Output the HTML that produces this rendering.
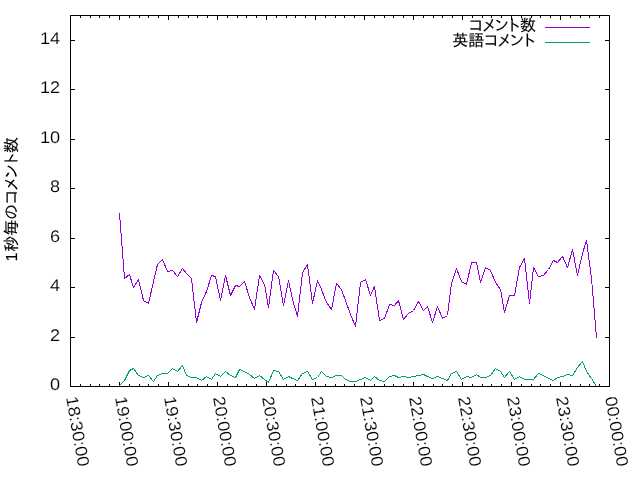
<!DOCTYPE html>
<html lang="ja">
<head>
<meta charset="utf-8">
<title>1秒毎のコメント数</title>
<style>
html,body{margin:0;padding:0;background:#fff;}
body{width:640px;height:480px;overflow:hidden;}
svg{display:block;}
text{font-family:"Liberation Sans", "IPAGothic", sans-serif;font-size:16px;fill:#000;text-rendering:geometricPrecision;stroke:#000;stroke-width:0.15px;}
.d{font-size:16.8px;stroke:#fff;stroke-width:0.12px;}
.ax{stroke:#000;stroke-width:1;fill:none;shape-rendering:crispEdges;}
</style>
</head>
<body>
<svg width="640" height="480" viewBox="0 0 640 480">
<rect x="0" y="0" width="640" height="480" fill="#fff"/>
<path class="ax" d="M70.5,386.50h4.5 M609.5,386.50h-4.5 M70.5,337.50h4.5 M609.5,337.50h-4.5 M70.5,287.50h4.5 M609.5,287.50h-4.5 M70.5,238.50h4.5 M609.5,238.50h-4.5 M70.5,188.50h4.5 M609.5,188.50h-4.5 M70.5,139.50h4.5 M609.5,139.50h-4.5 M70.5,89.50h4.5 M609.5,89.50h-4.5 M70.5,40.50h4.5 M609.5,40.50h-4.5 M70.50,386.5v-4.5 M70.50,15.5v4.5 M80.50,386.5v-2.5 M80.50,15.5v2.5 M90.50,386.5v-2.5 M90.50,15.5v2.5 M99.50,386.5v-2.5 M99.50,15.5v2.5 M109.50,386.5v-2.5 M109.50,15.5v2.5 M119.50,386.5v-4.5 M119.50,15.5v4.5 M129.50,386.5v-2.5 M129.50,15.5v2.5 M139.50,386.5v-2.5 M139.50,15.5v2.5 M148.50,386.5v-2.5 M148.50,15.5v2.5 M158.50,386.5v-2.5 M158.50,15.5v2.5 M168.50,386.5v-4.5 M168.50,15.5v4.5 M178.50,386.5v-2.5 M178.50,15.5v2.5 M188.50,386.5v-2.5 M188.50,15.5v2.5 M197.50,386.5v-2.5 M197.50,15.5v2.5 M207.50,386.5v-2.5 M207.50,15.5v2.5 M217.50,386.5v-4.5 M217.50,15.5v4.5 M227.50,386.5v-2.5 M227.50,15.5v2.5 M237.50,386.5v-2.5 M237.50,15.5v2.5 M246.50,386.5v-2.5 M246.50,15.5v2.5 M256.50,386.5v-2.5 M256.50,15.5v2.5 M266.50,386.5v-4.5 M266.50,15.5v4.5 M276.50,386.5v-2.5 M276.50,15.5v2.5 M286.50,386.5v-2.5 M286.50,15.5v2.5 M295.50,386.5v-2.5 M295.50,15.5v2.5 M305.50,386.5v-2.5 M305.50,15.5v2.5 M315.50,386.5v-4.5 M315.50,15.5v4.5 M325.50,386.5v-2.5 M325.50,15.5v2.5 M335.50,386.5v-2.5 M335.50,15.5v2.5 M344.50,386.5v-2.5 M344.50,15.5v2.5 M354.50,386.5v-2.5 M354.50,15.5v2.5 M364.50,386.5v-4.5 M364.50,15.5v4.5 M374.50,386.5v-2.5 M374.50,15.5v2.5 M384.50,386.5v-2.5 M384.50,15.5v2.5 M393.50,386.5v-2.5 M393.50,15.5v2.5 M403.50,386.5v-2.5 M403.50,15.5v2.5 M413.50,386.5v-4.5 M413.50,15.5v4.5 M423.50,386.5v-2.5 M423.50,15.5v2.5 M433.50,386.5v-2.5 M433.50,15.5v2.5 M442.50,386.5v-2.5 M442.50,15.5v2.5 M452.50,386.5v-2.5 M452.50,15.5v2.5 M462.50,386.5v-4.5 M462.50,15.5v4.5 M472.50,386.5v-2.5 M472.50,15.5v2.5 M482.50,386.5v-2.5 M482.50,15.5v2.5 M491.50,386.5v-2.5 M491.50,15.5v2.5 M501.50,386.5v-2.5 M501.50,15.5v2.5 M511.50,386.5v-4.5 M511.50,15.5v4.5 M521.50,386.5v-2.5 M521.50,15.5v2.5 M531.50,386.5v-2.5 M531.50,15.5v2.5 M540.50,386.5v-2.5 M540.50,15.5v2.5 M550.50,386.5v-2.5 M550.50,15.5v2.5 M560.50,386.5v-4.5 M560.50,15.5v4.5 M570.50,386.5v-2.5 M570.50,15.5v2.5 M580.50,386.5v-2.5 M580.50,15.5v2.5 M589.50,386.5v-2.5 M589.50,15.5v2.5 M599.50,386.5v-2.5 M599.50,15.5v2.5 M609.50,386.5v-4.5 M609.50,15.5v4.5"/>
<text x="50.02" y="389.90" textLength="10.08" lengthAdjust="spacingAndGlyphs" class="d">0</text>
<text x="50.02" y="340.90" textLength="10.08" lengthAdjust="spacingAndGlyphs" class="d">2</text>
<text x="50.02" y="290.90" textLength="10.08" lengthAdjust="spacingAndGlyphs" class="d">4</text>
<text x="50.02" y="241.90" textLength="10.08" lengthAdjust="spacingAndGlyphs" class="d">6</text>
<text x="50.02" y="191.90" textLength="10.08" lengthAdjust="spacingAndGlyphs" class="d">8</text>
<text x="39.94" y="142.90" textLength="20.16" lengthAdjust="spacingAndGlyphs" class="d">10</text>
<text x="39.94" y="92.90" textLength="20.16" lengthAdjust="spacingAndGlyphs" class="d">12</text>
<text x="39.94" y="43.90" textLength="20.16" lengthAdjust="spacingAndGlyphs" class="d">14</text>
<text transform="translate(71.50,396.50) rotate(80)" x="0" y="5.6" textLength="70.70" lengthAdjust="spacingAndGlyphs" class="d">18:30:00</text>
<text transform="translate(120.50,396.50) rotate(80)" x="0" y="5.6" textLength="70.70" lengthAdjust="spacingAndGlyphs" class="d">19:00:00</text>
<text transform="translate(169.50,396.50) rotate(80)" x="0" y="5.6" textLength="70.70" lengthAdjust="spacingAndGlyphs" class="d">19:30:00</text>
<text transform="translate(218.50,396.50) rotate(80)" x="0" y="5.6" textLength="70.70" lengthAdjust="spacingAndGlyphs" class="d">20:00:00</text>
<text transform="translate(267.50,396.50) rotate(80)" x="0" y="5.6" textLength="70.70" lengthAdjust="spacingAndGlyphs" class="d">20:30:00</text>
<text transform="translate(316.50,396.50) rotate(80)" x="0" y="5.6" textLength="70.70" lengthAdjust="spacingAndGlyphs" class="d">21:00:00</text>
<text transform="translate(365.50,396.50) rotate(80)" x="0" y="5.6" textLength="70.70" lengthAdjust="spacingAndGlyphs" class="d">21:30:00</text>
<text transform="translate(414.50,396.50) rotate(80)" x="0" y="5.6" textLength="70.70" lengthAdjust="spacingAndGlyphs" class="d">22:00:00</text>
<text transform="translate(463.50,396.50) rotate(80)" x="0" y="5.6" textLength="70.70" lengthAdjust="spacingAndGlyphs" class="d">22:30:00</text>
<text transform="translate(512.50,396.50) rotate(80)" x="0" y="5.6" textLength="70.70" lengthAdjust="spacingAndGlyphs" class="d">23:00:00</text>
<text transform="translate(561.50,396.50) rotate(80)" x="0" y="5.6" textLength="70.70" lengthAdjust="spacingAndGlyphs" class="d">23:30:00</text>
<text transform="translate(610.50,396.50) rotate(80)" x="0" y="5.6" textLength="70.70" lengthAdjust="spacingAndGlyphs" class="d">00:00:00</text>
<text transform="translate(17.4,199.40) rotate(-90)" x="-62.12 -52.24 -36.24 -20.56 -5.68 7.61 19.92 32.08 46.32" y="0">1秒毎のコメント数</text>
<text x="467.90 481.19 493.50 505.66 519.90" y="30.6">コメント数</text>
<text x="452.16 468.16 483.20 496.49 508.80 520.96" y="45.6">英語コメント</text>
<path d="M545,27.5H590" stroke="#9400d3" stroke-width="1" fill="none" shape-rendering="crispEdges"/>
<path d="M545,42.5H590" stroke="#009e73" stroke-width="1" fill="none" shape-rendering="crispEdges"/>
<polyline points="119.5,213.5 124.5,278.5 129.5,274.5 133.5,287.5 138.5,279.5 143.5,300.5 148.5,303.5 153.5,281.5 157.5,264.5 162.5,259.5 167.5,271.5 172.5,270.5 177.5,276.5 182.5,268.5 186.5,273.5 191.5,278.5 196.5,322.5 201.5,302.5 206.5,291.5 211.5,275.5 215.5,276.5 220.5,300.5 225.5,275.5 230.5,295.5 235.5,285.5 239.5,286.5 244.5,281.5 249.5,297.5 254.5,309.5 259.5,275.5 264.5,284.5 268.5,307.5 273.5,270.5 278.5,276.5 283.5,305.5 288.5,280.5 292.5,299.5 297.5,316.5 302.5,272.5 307.5,264.5 312.5,303.5 317.5,280.5 321.5,289.5 326.5,302.5 331.5,309.5 336.5,283.5 341.5,289.5 345.5,300.5 350.5,314.5 355.5,326.5 360.5,282.5 365.5,279.5 370.5,295.5 374.5,286.5 379.5,320.5 384.5,318.5 389.5,304.5 394.5,305.5 398.5,300.5 403.5,319.5 408.5,313.5 413.5,310.5 418.5,301.5 423.5,310.5 427.5,306.5 432.5,322.5 437.5,306.5 442.5,318.5 447.5,315.5 451.5,283.5 456.5,268.5 461.5,281.5 466.5,284.5 471.5,262.5 476.5,262.5 480.5,282.5 485.5,267.5 490.5,270.5 495.5,282.5 500.5,289.5 504.5,312.5 509.5,295.5 514.5,295.5 519.5,267.5 524.5,258.5 529.5,303.5 533.5,267.5 538.5,276.5 543.5,275.5 548.5,269.5 553.5,260.5 557.5,262.5 562.5,256.5 567.5,267.5 572.5,249.5 577.5,275.5 582.5,253.5 586.5,240.5 591.5,278.5 596.5,337.5" fill="none" stroke="#9400d3" stroke-width="1" stroke-linejoin="bevel" stroke-linecap="square" shape-rendering="crispEdges"/>
<polyline points="119.5,385.5 124.5,380.5 129.5,370.5 133.5,368.5 138.5,375.5 143.5,377.5 148.5,375.5 153.5,381.5 157.5,375.5 162.5,373.5 167.5,373.5 172.5,368.5 177.5,371.5 182.5,365.5 186.5,375.5 191.5,377.5 196.5,377.5 201.5,380.5 206.5,376.5 211.5,379.5 215.5,373.5 220.5,376.5 225.5,371.5 230.5,375.5 235.5,377.5 239.5,369.5 244.5,371.5 249.5,374.5 254.5,378.5 259.5,375.5 264.5,379.5 268.5,382.5 273.5,370.5 278.5,371.5 283.5,379.5 288.5,376.5 292.5,378.5 297.5,380.5 302.5,373.5 307.5,371.5 312.5,379.5 317.5,377.5 321.5,371.5 326.5,376.5 331.5,377.5 336.5,375.5 341.5,375.5 345.5,379.5 350.5,381.5 355.5,381.5 360.5,379.5 365.5,377.5 370.5,380.5 374.5,376.5 379.5,380.5 384.5,381.5 389.5,376.5 394.5,375.5 398.5,377.5 403.5,376.5 408.5,377.5 413.5,376.5 418.5,375.5 423.5,374.5 427.5,376.5 432.5,378.5 437.5,376.5 442.5,378.5 447.5,380.5 451.5,373.5 456.5,371.5 461.5,379.5 466.5,376.5 471.5,377.5 476.5,374.5 480.5,377.5 485.5,377.5 490.5,375.5 495.5,368.5 500.5,371.5 504.5,377.5 509.5,371.5 514.5,379.5 519.5,376.5 524.5,379.5 529.5,379.5 533.5,379.5 538.5,373.5 543.5,375.5 548.5,378.5 553.5,380.5 557.5,377.5 562.5,376.5 567.5,374.5 572.5,375.5 577.5,367.5 582.5,361.5 586.5,371.5 591.5,378.5 596.5,386.5" fill="none" stroke="#009e73" stroke-width="1" stroke-linejoin="bevel" stroke-linecap="square" shape-rendering="crispEdges"/>
<rect class="ax" x="70.5" y="15.5" width="539.0" height="371.00"/>
</svg>
</body>
</html>
